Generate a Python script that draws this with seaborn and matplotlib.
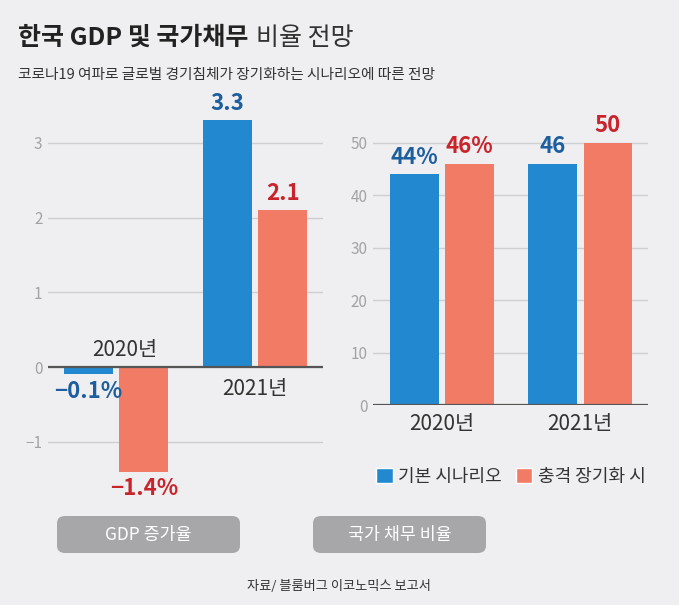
import numpy as np
import pandas as pd
import matplotlib
matplotlib.use("Agg")
import matplotlib.pyplot as plt
import seaborn as sns
from matplotlib.patches import Patch, FancyBboxPatch

# data
years = ["2020년", "2021년"]
scenarios = ["기본 시나리오", "충격 장기화 시"]
gdp_base = [-0.1, 3.3]
gdp_shock = [-1.4, 2.1]
debt_base = [44, 46]
debt_shock = [46, 50]
gdp_labels_base = ["−0.1%", "3.3"]
gdp_labels_shock = ["−1.4%", "2.1"]
debt_labels_base = ["44%", "46"]
debt_labels_shock = ["46%", "50"]

BG = "#efeff1"
BLUE = "#2289d0"
RED = "#f27b66"
BLUE_TXT = "#1c5e9e"
RED_TXT = "#c9232b"
FONT = ["Noto Sans CJK KR", "DejaVu Sans"]

sns.set_theme(style="white")
plt.rcParams["font.family"] = FONT
plt.rcParams["axes.unicode_minus"] = True

gdp = pd.DataFrame({
    "year": years * 2,
    "value": gdp_base + gdp_shock,
    "scenario": [scenarios[0]] * 2 + [scenarios[1]] * 2,
})
debt = pd.DataFrame({
    "year": years * 2,
    "value": debt_base + debt_shock,
    "scenario": [scenarios[0]] * 2 + [scenarios[1]] * 2,
})
pal = dict(zip(scenarios, [BLUE, RED]))

fig = plt.figure(figsize=(6.79, 6.05), dpi=100, facecolor=BG)
W, H = 679, 605


def px_axes(x0, y0, x1, y1):
    return fig.add_axes([x0 / W, 1 - y1 / H, (x1 - x0) / W, (y1 - y0) / H])


# --- left: GDP growth
ax1 = px_axes(48, 100, 323, 500)
sns.barplot(data=gdp, x="year", y="value", hue="scenario", palette=pal,
            width=0.8, gap=0.12, saturation=1, linewidth=0, legend=False, ax=ax1)
ax1.set_xlim(-0.49, 1.49)
ax1.set_ylim(-1.78, 3.574)
ax1.set_yticks([-1, 0, 1, 2, 3])
ax1.set_xticks([])
ax1.set_xlabel("")
ax1.set_ylabel("")
ax1.axhline(0, color="#555555", lw=1.6, zorder=3)
for c, labs, col in zip(ax1.containers, [gdp_labels_base, gdp_labels_shock], [BLUE_TXT, RED_TXT]):
    ax1.bar_label(c, labels=labs, padding=4, color=col, fontsize=16,
                  fontweight="bold", family=FONT)
ax1.text(0.06, 0.23, years[0], ha="center", va="center", fontsize=15, color="#333333")
ax1.text(1.0, -0.29, years[1], ha="center", va="center", fontsize=15, color="#333333")

# --- right: national debt ratio
ax2 = px_axes(373, 100, 648, 405)
sns.barplot(data=debt, x="year", y="value", hue="scenario", palette=pal,
            width=0.8, gap=0.12, saturation=1, linewidth=0, legend=False, ax=ax2)
ax2.set_xlim(-0.5, 1.49)
ax2.set_ylim(0, 58.2)
ax2.set_yticks(range(0, 51, 10))
ax2.set_xlabel("")
ax2.set_ylabel("")
ax2.axhline(0, color="#555555", lw=1.6, zorder=3)
for c, labs, col in zip(ax2.containers, [debt_labels_base, debt_labels_shock], [BLUE_TXT, RED_TXT]):
    ax2.bar_label(c, labels=labs, padding=4, color=col, fontsize=16,
                  fontweight="bold", family=FONT)
ax2.tick_params(axis="x", length=0, pad=6, labelsize=15, labelcolor="#333333")

for ax in (ax1, ax2):
    ax.set_facecolor(BG)
    for s in ax.spines.values():
        s.set_visible(False)
    ax.yaxis.grid(True, color="#cfcfd2", lw=1)
    ax.set_axisbelow(True)
    ax.tick_params(axis="y", length=0, pad=4, labelsize=11, labelcolor="#a3a3a6")

# legend
handles = [Patch(facecolor=pal[s], label=s) for s in scenarios]
fig.legend(handles=handles, loc="center", bbox_to_anchor=(511 / W, 1 - 477 / H),
           ncol=2, frameon=False, fontsize=13, handlelength=0.9, handleheight=0.9,
           handletextpad=0.3, columnspacing=0.8, labelcolor="#333333")

# category boxes
for (x0, x1), label in zip([(57, 240), (313, 486)], ["GDP 증가율", "국가 채무 비율"]):
    fig.patches.append(FancyBboxPatch((x0 / W, 1 - 553 / H), (x1 - x0) / W, 37 / H,
                                      boxstyle="round,pad=0,rounding_size=0.012",
                                      transform=fig.transFigure, facecolor="#a7a7aa",
                                      edgecolor="none"))
    fig.text((x0 + x1) / 2 / W, 1 - 535 / H, label, ha="center", va="center",
             fontsize=12.5, color="white")

# titles
t1 = fig.text(18 / W, 1 - 38 / H, "한국 GDP 및 국가채무", ha="left", va="center",
              fontsize=18, fontweight="bold", color="#222222")
fig.canvas.draw()
bb = t1.get_window_extent(fig.canvas.get_renderer())
fig.text(bb.x1 / W + 8 / W, 1 - 38 / H, "비율 전망", ha="left", va="center",
         fontsize=18, fontweight="light", color="#333333")
fig.text(18 / W, 1 - 75 / H, "코로나19 여파로 글로벌 경기침체가 장기화하는 시나리오에 따른 전망",
         ha="left", va="center", fontsize=10.6, color="#333333")
fig.text(339 / W, 1 - 587 / H, "자료/ 블룸버그 이코노믹스 보고서", ha="center", va="center",
         fontsize=9.5, color="#333333", style="italic")

fig.savefig("out.png", dpi=100, facecolor=BG)
